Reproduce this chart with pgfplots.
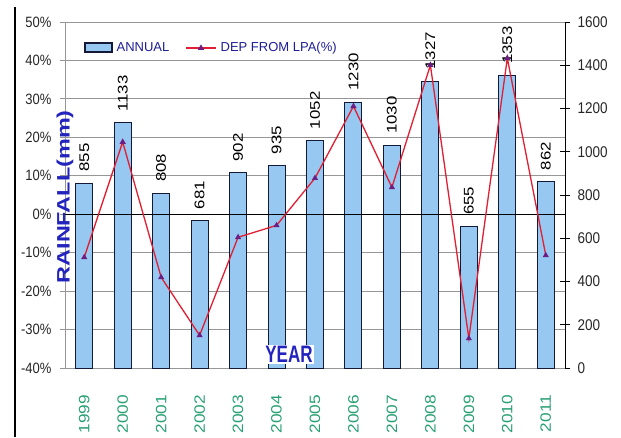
\documentclass[border=0pt]{standalone}
\usepackage{graphicx}
\usepackage{pgfplots}
\pgfplotsset{compat=1.18}
\usepackage{fontspec}
\setmainfont{Liberation Sans}
\definecolor{barblue}{RGB}{150,200,242}
\definecolor{barnavy}{RGB}{20,25,55}
\definecolor{linered}{RGB}{225,30,50}
\definecolor{markpurple}{RGB}{110,30,130}
\definecolor{gridgray}{RGB}{150,150,150}
\definecolor{labblue}{RGB}{35,35,190}
\definecolor{legblue}{RGB}{30,30,150}
\definecolor{yeargreen}{RGB}{40,160,115}
\pgfkeys{/pgf/number format/1000 sep={}}
\pgfplotsset{boxlegend/.style={legend image code/.code={\draw[##1] (0pt,-4pt) rectangle (27pt,5pt);}},
  linelegend/.style={legend image code/.code={\draw[##1, mark repeat=2, mark phase=2] plot coordinates {(0pt,0pt) (15pt,0pt) (30pt,0pt)};}}}
\begin{document}
\begin{tikzpicture}
\path[use as bounding box] (-65pt,-69pt) rectangle (556pt,368pt);
\draw[black, line width=1.4pt] (-50pt,-69pt) -- (-50pt,361pt);
% axis 1: bars on the right axis
\begin{axis}[
  at={(0pt,0pt)}, anchor=south west, scale only axis,
  width=500pt, height=346pt,
  xmin=-0.5, xmax=12.5, ymin=0, ymax=1600,
  axis y line*=right, axis x line*=bottom,
  x axis line style={gridgray, line width=0.8pt},
  y axis line style={black, line width=1pt},
  ybar, bar width=17pt,
  xtick={0,1,...,12},
  xticklabels={1999,2000,2001,2002,2003,2004,2005,2006,2007,2008,2009,2010,2011},
  x tick label style={rotate=90, xscale=1.15, anchor=east, text=yeargreen, font=\fontsize{15}{17}\selectfont},
  xticklabel shift=18pt,
  major x tick style={draw=none},
  ytick={0,200,...,1600},
  ytick pos=right,
  y tick style={black, line width=1pt},
  tick align=center, major tick length=10pt,
  yticklabel shift=4pt,
  y tick label style={yscale=1.15, font=\fontsize{13.5}{15}\selectfont, text=black!85},
  /pgf/number format/assume math mode=true,
  extra y ticks={0,177.78,355.56,533.33,711.11,888.89,1066.67,1244.44,1422.22,1600},
  extra y tick labels={},
  extra y tick style={grid=major, major grid style={gridgray, line width=0.8pt}, major tick length=0pt},
  nodes near coords={\rotatebox{90}{\scalebox{1.2}[1]{\pgfmathprintnumber{\pgfplotspointmeta}}}},
  every node near coord/.append style={anchor=south, inner sep=0pt, yshift=11pt, font=\fontsize{14}{16}\selectfont, text=black},
]
\addplot[ybar, fill=barblue, draw=barnavy, line width=1pt] coordinates {
(0,855) (1,1133) (2,808) (3,681) (4,902) (5,935) (6,1052)
(7,1230) (8,1030) (9,1327) (10,655) (11,1353) (12,862)};
\end{axis}
% axis 2: departure line on the left axis
\begin{axis}[
  at={(0pt,0pt)}, anchor=south west, scale only axis,
  width=500pt, height=346pt, clip=false,
  xmin=-0.5, xmax=12.5, ymin=-40, ymax=50,
  axis y line*=left, axis x line=none,
  y axis line style={gridgray, line width=0.8pt},
  y tick style={gridgray, line width=0.8pt},
  ytick={-40,-30,...,50},
  yticklabel={\pgfmathprintnumber{\tick}\%},
  tick align=outside, major tick length=5pt,
  yticklabel shift=5pt,
  y tick label style={yscale=1.15, font=\fontsize{13}{15}\selectfont, text=black!85},
  /pgf/number format/assume math mode=true,
  extra y ticks={0},
  extra y tick labels={},
  extra y tick style={grid=major, major grid style={black, line width=1.2pt}, major tick length=0pt},
  legend style={at={(rel axis cs:0.036,0.95)}, anchor=north west, fill=white, draw=none,
    font=\fontsize{13}{15}\selectfont, text=legblue, column sep=2pt, inner sep=1pt,
    /tikz/every even column/.append style={column sep=14pt}},
  legend columns=2,
  legend cell align=left,
]
\addlegendimage{boxlegend, fill=barblue, draw=barnavy, line width=1.4pt}
\addlegendentry{ANNUAL}
\addplot[linelegend, color=linered, line width=1.3pt, mark=triangle*, mark size=2.3pt,
  mark options={fill=markpurple, draw=markpurple}] coordinates {
(0,-11.2) (1,18.8) (2,-16.4) (3,-31.5) (4,-6.0) (5,-2.9) (6,9.4)
(7,28.1) (8,7.0) (9,38.8) (10,-32.3) (11,40.6) (12,-10.7)};
\addlegendentry{DEP FROM LPA(\%)}
\node[rotate=90, xscale=1.3, text=labblue, font=\bfseries\fontsize{18}{20}\selectfont] at (rel axis cs:0,0.506) [xshift=-3pt] {RAINFALL(mm)};
\node[fill=white, yscale=1.4, text=labblue, font=\bfseries\fontsize{17}{19}\selectfont, inner sep=1pt] at (rel axis cs:0.448,0.04) {YEAR};
\end{axis}
\end{tikzpicture}
\end{document}
